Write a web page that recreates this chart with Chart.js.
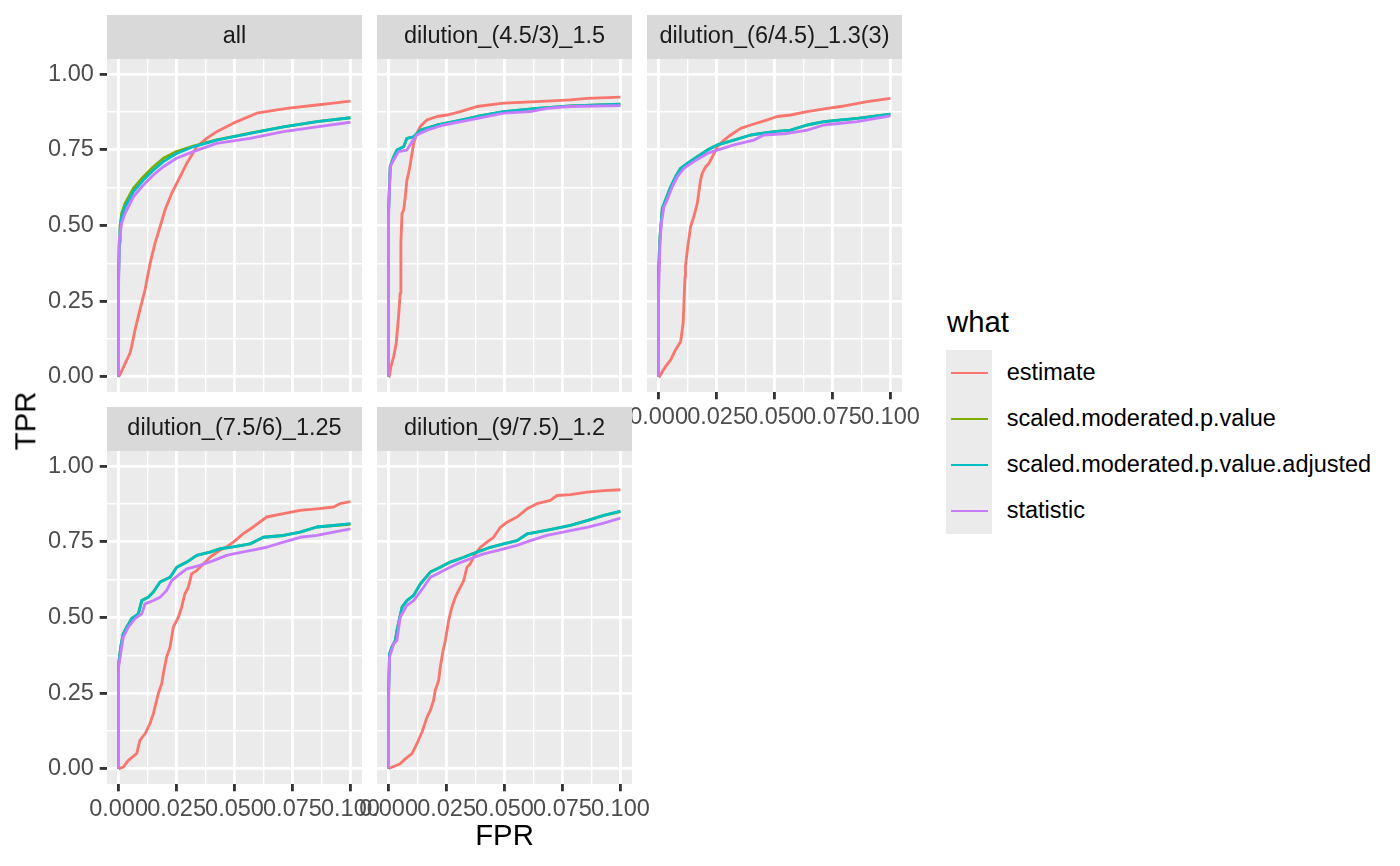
<!DOCTYPE html>
<html>
<head>
<meta charset="utf-8">
<script src="https://cdn.jsdelivr.net/npm/chart.js@4.4.1/dist/chart.umd.min.js"></script>
<style>
  html, body { margin:0; padding:0; background:#ffffff; }
  body { width:1400px; height:866px; position:relative; overflow:hidden;
         font-family:'Liberation Sans', Arial, Helvetica, sans-serif; }
  canvas { position:absolute; }
  .txt { position:absolute; white-space:nowrap; line-height:1; }
</style>
</head>
<body>
<script>
// ---------------- data ----------------
const panelTitles = ['all', 'dilution_(4.5/3)_1.5', 'dilution_(6/4.5)_1.3(3)', 'dilution_(7.5/6)_1.25', 'dilution_(9/7.5)_1.2'];
const seriesNames = ['estimate', 'scaled.moderated.p.value', 'scaled.moderated.p.value.adjusted', 'statistic'];
const seriesColors = ['#F8766D', '#7CAE00', '#00BFC4', '#C77CFF'];

const xTickValues = [0, 0.025, 0.05, 0.075, 0.1];
const xMinorValues = [0.0125, 0.0375, 0.0625, 0.0875];
const xTickLabels = ['0.000', '0.025', '0.050', '0.075', '0.100'];
const yTickValues = [0, 0.25, 0.5, 0.75, 1];
const yMinorValues = [0.125, 0.375, 0.625, 0.875];
const yTickLabels = ['0.00', '0.25', '0.50', '0.75', '1.00'];

// panel "all"
const all_estimate = [[0,0],[0.0009,0.012],[0.0028,0.044],[0.0049,0.078],[0.0056,0.100],[0.0071,0.155],[0.0092,0.221],[0.0114,0.287],[0.0136,0.375],[0.0157,0.441],[0.0179,0.496],[0.0200,0.551],[0.0229,0.606],[0.0258,0.650],[0.0294,0.705],[0.0337,0.760],[0.0380,0.788],[0.0423,0.810],[0.0495,0.838],[0.0596,0.871],[0.0725,0.887],[0.0855,0.898],[0.0927,0.904],[0.1,0.911]];
const all_smpv = [[0,0],[0,0.335],[0.0003,0.450],[0.0006,0.495],[0.0013,0.540],[0.0028,0.573],[0.0064,0.623],[0.0107,0.661],[0.0150,0.694],[0.0193,0.722],[0.0250,0.744],[0.0322,0.762],[0.0423,0.783],[0.0567,0.805],[0.0711,0.826],[0.0855,0.843],[0.1,0.856]];
const all_smpva = [[0,0],[0,0.331],[0.0003,0.441],[0.0006,0.485],[0.0013,0.529],[0.0028,0.562],[0.0064,0.612],[0.0107,0.650],[0.0150,0.683],[0.0193,0.711],[0.0250,0.738],[0.0322,0.760],[0.0423,0.782],[0.0567,0.804],[0.0711,0.826],[0.0855,0.843],[0.1,0.856]];
const all_statistic = [[0,0],[0,0.300],[0.0003,0.450],[0.0013,0.507],[0.0028,0.540],[0.0064,0.595],[0.0107,0.634],[0.0150,0.667],[0.0193,0.694],[0.0250,0.722],[0.0322,0.744],[0.0423,0.771],[0.0567,0.788],[0.0711,0.810],[0.0855,0.826],[0.1,0.841]];

// panel dilution_(4.5/3)_1.5
const d15_estimate = [[0,0],[0.0003,0.001],[0.0010,0.034],[0.0022,0.067],[0.0033,0.111],[0.0043,0.199],[0.0050,0.276],[0.0053,0.441],[0.0058,0.540],[0.0065,0.551],[0.0072,0.595],[0.0079,0.650],[0.0086,0.672],[0.0094,0.705],[0.0101,0.738],[0.0108,0.771],[0.0122,0.805],[0.0137,0.827],[0.0166,0.849],[0.0209,0.860],[0.0252,0.865],[0.0309,0.876],[0.0381,0.893],[0.0496,0.904],[0.0640,0.909],[0.0784,0.915],[0.0856,0.920],[0.1,0.924]];
const d15_smpv = [[0,0],[0,0.551],[0.0007,0.695],[0.0022,0.727],[0.0036,0.749],[0.0065,0.760],[0.0079,0.788],[0.0108,0.793],[0.0137,0.815],[0.0209,0.832],[0.0281,0.843],[0.0381,0.860],[0.0496,0.876],[0.0640,0.887],[0.0784,0.895],[0.1,0.901]];
const d15_smpva = [[0,0],[0,0.551],[0.0007,0.695],[0.0022,0.727],[0.0036,0.749],[0.0065,0.760],[0.0079,0.788],[0.0108,0.793],[0.0137,0.815],[0.0209,0.832],[0.0281,0.843],[0.0381,0.860],[0.0496,0.876],[0.0640,0.887],[0.0784,0.895],[0.1,0.901]];
const d15_statistic = [[0,0],[0,0.529],[0.0007,0.695],[0.0022,0.716],[0.0043,0.744],[0.0079,0.749],[0.0101,0.777],[0.0122,0.799],[0.0166,0.815],[0.0237,0.832],[0.0352,0.849],[0.0496,0.871],[0.0611,0.876],[0.0683,0.887],[0.0784,0.893],[0.1,0.896]];

// panel dilution_(6/4.5)_1.3(3)
const d133_estimate = [[0,0],[0.0004,0.001],[0.0016,0.017],[0.0030,0.034],[0.0052,0.056],[0.0073,0.089],[0.0095,0.116],[0.0106,0.177],[0.0114,0.331],[0.0116,0.364],[0.0124,0.419],[0.0138,0.496],[0.0152,0.529],[0.0167,0.573],[0.0174,0.612],[0.0181,0.650],[0.0188,0.672],[0.0203,0.694],[0.0217,0.705],[0.0232,0.727],[0.0253,0.760],[0.0282,0.782],[0.0311,0.799],[0.0354,0.821],[0.0397,0.832],[0.0469,0.849],[0.0512,0.860],[0.0569,0.865],[0.0641,0.876],[0.0728,0.887],[0.0785,0.893],[0.0900,0.909],[0.1,0.920]];
const d133_smpv = [[0,0],[0,0.353],[0.0006,0.463],[0.0012,0.518],[0.0016,0.557],[0.0030,0.584],[0.0052,0.628],[0.0073,0.661],[0.0095,0.689],[0.0124,0.705],[0.0167,0.727],[0.0210,0.749],[0.0253,0.766],[0.0325,0.782],[0.0397,0.799],[0.0498,0.810],[0.0569,0.815],[0.0641,0.832],[0.0713,0.843],[0.0857,0.854],[0.1,0.868]];
const d133_smpva = [[0,0],[0,0.353],[0.0006,0.463],[0.0012,0.518],[0.0016,0.557],[0.0030,0.584],[0.0052,0.628],[0.0073,0.661],[0.0095,0.689],[0.0124,0.705],[0.0167,0.727],[0.0210,0.749],[0.0253,0.766],[0.0325,0.782],[0.0397,0.799],[0.0498,0.810],[0.0569,0.815],[0.0641,0.832],[0.0713,0.843],[0.0857,0.854],[0.1,0.868]];
const d133_statistic = [[0,0],[0,0.276],[0.0006,0.441],[0.0012,0.507],[0.0023,0.562],[0.0037,0.584],[0.0059,0.628],[0.0081,0.661],[0.0109,0.689],[0.0152,0.711],[0.0210,0.738],[0.0253,0.749],[0.0325,0.766],[0.0411,0.782],[0.0454,0.799],[0.0555,0.804],[0.0641,0.815],[0.0713,0.832],[0.0857,0.843],[0.1,0.862]];

// panel dilution_(7.5/6)_1.25
const d125_estimate = [[0,0],[0.0020,0.006],[0.0042,0.028],[0.0078,0.050],[0.0092,0.094],[0.0114,0.116],[0.0135,0.149],[0.0150,0.182],[0.0171,0.248],[0.0186,0.281],[0.0193,0.314],[0.0207,0.369],[0.0222,0.402],[0.0236,0.468],[0.0258,0.501],[0.0272,0.534],[0.0286,0.578],[0.0301,0.600],[0.0315,0.644],[0.0337,0.655],[0.0366,0.677],[0.0394,0.699],[0.0437,0.722],[0.0466,0.733],[0.0495,0.749],[0.0538,0.777],[0.0581,0.799],[0.0639,0.832],[0.0711,0.843],[0.0783,0.854],[0.0855,0.859],[0.0927,0.865],[0.0955,0.876],[0.1,0.883]];
const d125_smpv = [[0,0],[0,0.347],[0.0009,0.402],[0.0020,0.446],[0.0035,0.468],[0.0056,0.496],[0.0085,0.512],[0.0100,0.556],[0.0128,0.567],[0.0150,0.584],[0.0179,0.617],[0.0222,0.633],[0.0251,0.666],[0.0294,0.683],[0.0337,0.705],[0.0394,0.716],[0.0437,0.727],[0.0495,0.733],[0.0567,0.743],[0.0624,0.765],[0.0711,0.771],[0.0783,0.782],[0.0855,0.799],[0.0927,0.804],[0.1,0.808]];
const d125_smpva = [[0,0],[0,0.347],[0.0009,0.402],[0.0020,0.446],[0.0035,0.468],[0.0056,0.496],[0.0085,0.512],[0.0100,0.556],[0.0128,0.567],[0.0150,0.584],[0.0179,0.617],[0.0222,0.633],[0.0251,0.666],[0.0294,0.683],[0.0337,0.705],[0.0394,0.716],[0.0437,0.727],[0.0495,0.733],[0.0567,0.743],[0.0624,0.765],[0.0711,0.771],[0.0783,0.782],[0.0855,0.799],[0.0927,0.804],[0.1,0.810]];
const d125_statistic = [[0,0],[0,0.336],[0.0009,0.380],[0.0020,0.435],[0.0042,0.468],[0.0071,0.496],[0.0100,0.512],[0.0114,0.545],[0.0150,0.556],[0.0179,0.567],[0.0207,0.589],[0.0229,0.622],[0.0265,0.644],[0.0294,0.661],[0.0351,0.672],[0.0409,0.688],[0.0466,0.705],[0.0495,0.710],[0.0567,0.721],[0.0639,0.732],[0.0711,0.749],[0.0783,0.765],[0.0855,0.771],[0.0927,0.782],[0.1,0.793]];

// panel dilution_(9/7.5)_1.2
const d12_estimate = [[0,0],[0.0003,0.002],[0.0022,0.008],[0.0050,0.017],[0.0072,0.033],[0.0101,0.050],[0.0122,0.083],[0.0144,0.121],[0.0166,0.171],[0.0180,0.193],[0.0194,0.226],[0.0201,0.259],[0.0216,0.292],[0.0223,0.336],[0.0235,0.391],[0.0245,0.424],[0.0259,0.490],[0.0273,0.534],[0.0288,0.567],[0.0302,0.589],[0.0324,0.622],[0.0338,0.666],[0.0352,0.677],[0.0374,0.710],[0.0396,0.732],[0.0424,0.749],[0.0453,0.765],[0.0482,0.798],[0.0511,0.815],[0.0554,0.832],[0.0597,0.859],[0.0640,0.876],[0.0698,0.887],[0.0726,0.903],[0.0784,0.906],[0.0856,0.914],[0.0928,0.919],[0.1,0.922]];
const d12_smpv = [[0,0],[0,0.259],[0.0004,0.380],[0.0014,0.402],[0.0029,0.424],[0.0036,0.457],[0.0058,0.534],[0.0079,0.556],[0.0108,0.573],[0.0137,0.611],[0.0180,0.650],[0.0223,0.666],[0.0266,0.683],[0.0324,0.699],[0.0381,0.716],[0.0439,0.732],[0.0496,0.743],[0.0554,0.754],[0.0597,0.776],[0.0640,0.782],[0.0712,0.793],[0.0784,0.804],[0.0856,0.820],[0.0928,0.837],[0.1,0.850]];
const d12_smpva = [[0,0],[0,0.259],[0.0004,0.380],[0.0014,0.402],[0.0029,0.424],[0.0036,0.457],[0.0058,0.534],[0.0079,0.556],[0.0108,0.573],[0.0137,0.611],[0.0180,0.650],[0.0223,0.666],[0.0266,0.683],[0.0324,0.699],[0.0381,0.716],[0.0439,0.732],[0.0496,0.743],[0.0554,0.754],[0.0597,0.776],[0.0640,0.782],[0.0712,0.793],[0.0784,0.804],[0.0856,0.820],[0.0928,0.837],[0.1,0.851]];
const d12_statistic = [[0,0],[0,0.226],[0.0004,0.369],[0.0022,0.413],[0.0036,0.424],[0.0050,0.501],[0.0079,0.540],[0.0108,0.556],[0.0151,0.600],[0.0180,0.633],[0.0209,0.644],[0.0252,0.661],[0.0295,0.677],[0.0352,0.694],[0.0410,0.710],[0.0468,0.721],[0.0554,0.738],[0.0612,0.754],[0.0683,0.771],[0.0784,0.787],[0.0856,0.798],[0.0928,0.812],[0.1,0.828]];

const panelData = [
  [all_estimate, all_smpv, all_smpva, all_statistic],
  [d15_estimate, d15_smpv, d15_smpva, d15_statistic],
  [d133_estimate, d133_smpv, d133_smpva, d133_statistic],
  [d125_estimate, d125_smpv, d125_smpva, d125_statistic],
  [d12_estimate, d12_smpv, d12_smpva, d12_statistic]
];

// ---------------- layout ----------------
const FONT = "'Liberation Sans', Arial, Helvetica, sans-serif";
const colLeft = [107, 377, 647];
const rowTop = [15, 407];
const STRIP = 44, PW = 255, PH = 333, YW = 107, XH = 50, PAD = 36;
const panelPos = [
  {col:0, row:0, xlab:false, ylab:true},
  {col:1, row:0, xlab:false, ylab:false},
  {col:2, row:0, xlab:true,  ylab:false},
  {col:0, row:1, xlab:true,  ylab:true},
  {col:1, row:1, xlab:true,  ylab:false}
];

Chart.defaults.font.family = FONT;

function tickObjs(major, minor) {
  return major.map(v => ({value: v, major: true}))
    .concat(minor.map(v => ({value: v, major: false})))
    .sort((a, b) => a.value - b.value);
}

const panelBg = {
  id: 'panelBg',
  beforeDraw(chart) {
    const a = chart.chartArea, c = chart.ctx;
    c.save();
    c.fillStyle = '#D9D9D9';
    c.fillRect(a.left, 0, a.right - a.left, a.top);
    c.fillStyle = '#EBEBEB';
    c.fillRect(a.left, a.top, a.right - a.left, a.bottom - a.top);
    c.restore();
  }
};

panelPos.forEach((p, i) => {
  const leftPad = p.ylab ? YW : PAD;
  const cw = leftPad + PW + PAD;
  const ch = STRIP + PH + (p.xlab ? XH : 0);
  const cv = document.createElement('canvas');
  cv.width = cw; cv.height = ch;
  cv.style.width = cw + 'px'; cv.style.height = ch + 'px';
  cv.style.left = (colLeft[p.col] - leftPad) + 'px';
  cv.style.top = rowTop[p.row] + 'px';
  document.body.appendChild(cv);

  const datasets = seriesNames.map((name, k) => ({
    label: name,
    data: panelData[i][k],
    borderColor: seriesColors[k],
    backgroundColor: seriesColors[k],
    borderWidth: 2.84,
    pointRadius: 0,
    tension: 0,
    fill: false,
    borderJoinStyle: 'round',
    order: 3 - k
  }));

  new Chart(cv, {
    type: 'line',
    data: { datasets },
    plugins: [panelBg],
    options: {
      responsive: false,
      animation: false,
      events: [],
      devicePixelRatio: 1,
      layout: { padding: { left: p.ylab ? 0 : PAD, right: PAD, top: 0, bottom: 0 } },
      plugins: {
        legend: { display: false },
        tooltip: { enabled: false },
        title: {
          display: true, text: panelTitles[i], fullSize: false,
          color: '#1A1A1A', font: { size: 23.5, weight: 'normal', family: FONT, lineHeight: 1.2 },
          padding: { top: 7.9, bottom: 7.9 }
        }
      },
      scales: {
        x: {
          type: 'linear', min: -0.005, max: 0.105,
          afterBuildTicks: s => { s.ticks = tickObjs(xTickValues, xMinorValues); },
          afterFit: s => { s.height = p.xlab ? XH : 0; s.paddingLeft = 0; s.paddingRight = 0; },
          border: { display: false },
          grid: {
            color: '#FFFFFF',
            lineWidth: c => (c.tick && c.tick.major) ? 2.84 : 1.42,
            drawTicks: p.xlab, tickLength: 7.3, tickWidth: 2.84,
            tickColor: c => (c.tick && c.tick.major) ? '#333333' : 'rgba(0,0,0,0)'
          },
          ticks: {
            display: p.xlab, autoSkip: false, maxRotation: 0, minRotation: 0, padding: 4,
            color: '#4D4D4D', font: { size: 23.5, family: FONT },
            callback: v => { const j = xTickValues.indexOf(v); return j >= 0 ? xTickLabels[j] : ''; }
          }
        },
        y: {
          type: 'linear', min: -0.05, max: 1.05,
          afterBuildTicks: s => { s.ticks = tickObjs(yTickValues, yMinorValues); },
          afterFit: s => { s.width = p.ylab ? YW : 0; s.paddingTop = 0; s.paddingBottom = 0; },
          border: { display: false },
          grid: {
            color: '#FFFFFF',
            lineWidth: c => (c.tick && c.tick.major) ? 2.84 : 1.42,
            drawTicks: p.ylab, tickLength: 7.3, tickWidth: 2.84,
            tickColor: c => (c.tick && c.tick.major) ? '#333333' : 'rgba(0,0,0,0)'
          },
          ticks: {
            display: p.ylab, autoSkip: false, padding: 5.9,
            color: '#4D4D4D', font: { size: 23.5, family: FONT },
            callback: v => { const j = yTickValues.indexOf(v); return j >= 0 ? yTickLabels[j] : ''; }
          }
        }
      }
    }
  });
});

// ---------------- axis titles & legend ----------------
function addText(txt, css) {
  const d = document.createElement('div');
  d.className = 'txt';
  d.textContent = txt;
  Object.assign(d.style, css);
  document.body.appendChild(d);
  return d;
}
addText('TPR', { left: '25px', top: '421px', fontSize: '29.3px', color: '#000',
  transform: 'translate(-50%,-50%) rotate(-90deg)' });
addText('FPR', { left: '504.5px', top: '820px', fontSize: '29.3px', color: '#000',
  transform: 'translateX(-50%)' });
addText('what', { left: '947px', top: '307px', fontSize: '29.3px', color: '#000' });

const keyBox = document.createElement('div');
Object.assign(keyBox.style, { position: 'absolute', left: '946px', top: '350px', width: '46px',
  height: (46 * seriesNames.length) + 'px', background: '#EBEBEB' });
document.body.appendChild(keyBox);
seriesNames.forEach((name, k) => {
  const cy = 373 + 46 * k;
  const ln = document.createElement('div');
  Object.assign(ln.style, { position: 'absolute', left: '951px', top: (cy - 1.42) + 'px',
    width: '37px', height: '2.84px', background: seriesColors[k] });
  document.body.appendChild(ln);
  addText(name, { left: '1006.7px', top: (cy - 11.6) + 'px', fontSize: '23.5px', color: '#000' });
});
</script>
</body>
</html>
